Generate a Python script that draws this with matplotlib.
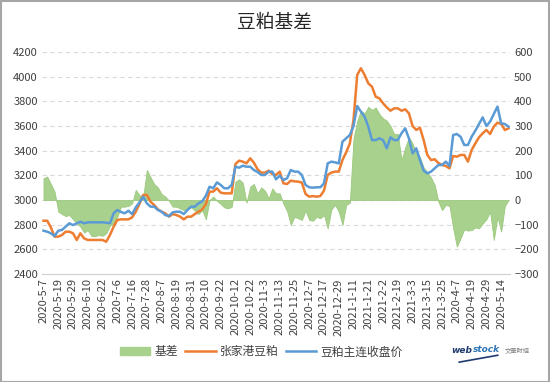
import numpy as np
import matplotlib.pyplot as plt
from matplotlib.patches import Patch, Rectangle
from matplotlib.lines import Line2D

plt.rcParams["font.family"] = ["Noto Sans CJK SC", "DejaVu Sans"]

# category labels, one every 4 samples (samples ~every 2 trading days)
tick_labels = [
    "2020-5-7", "2020-5-19", "2020-5-29", "2020-6-10", "2020-6-22", "2020-7-6",
    "2020-7-16", "2020-7-28", "2020-8-7", "2020-8-19", "2020-8-31", "2020-9-10",
    "2020-9-22", "2020-10-12", "2020-10-22", "2020-11-3", "2020-11-13",
    "2020-11-25", "2020-12-7", "2020-12-17", "2020-12-29", "2021-1-11",
    "2021-1-21", "2021-2-2", "2021-2-19", "2021-3-3", "2021-3-15", "2021-3-25",
    "2020-4-7", "2020-4-19", "2020-4-29", "2020-5-14",
]

# 张家港豆粕 (left axis)
zhangjiagang = [
    2832, 2832, 2778, 2703, 2703, 2716, 2743, 2743, 2730, 2676,
    2730, 2689, 2676, 2676, 2676, 2676, 2676, 2662, 2716, 2784,
    2838, 2843, 2843, 2843, 2859, 2905, 2968, 3041, 3041, 2986,
    2959, 2924, 2905, 2892, 2865, 2886, 2878, 2865, 2843, 2865,
    2865, 2886, 2905, 2924, 2968, 3068, 3068, 3095, 3060, 3054,
    3054, 3054, 3292, 3319, 3311, 3297, 3338, 3303, 3249, 3222,
    3222, 3238, 3211, 3203, 3230, 3135, 3130, 3157, 3151, 3149,
    3141, 3049, 3027, 3032, 3027, 3032, 3076, 3203, 3222, 3230,
    3230, 3324, 3386, 3459, 3650, 4014, 4068, 4014, 3946, 3919,
    3838, 3824, 3784, 3751, 3724, 3743, 3743, 3724, 3735, 3703,
    3600, 3568, 3586, 3486, 3365, 3324, 3330, 3300, 3284, 3276,
    3257, 3357, 3351, 3365, 3365, 3311, 3405, 3459, 3508, 3541,
    3568, 3535, 3595, 3627, 3616, 3568, 3581,
]

# 豆粕主连收盘价 (left axis)
main_close = [
    2751, 2743, 2730, 2708, 2751, 2757, 2784, 2811, 2797, 2811,
    2824, 2811, 2819, 2819, 2819, 2819, 2819, 2816, 2811, 2892,
    2919, 2903, 2892, 2913, 2886, 2940, 2981, 3027, 2973, 2946,
    2946, 2919, 2905, 2878, 2870, 2900, 2905, 2905, 2886, 2919,
    2946, 2946, 2973, 2989, 3035, 3108, 3095, 3143, 3122, 3095,
    3095, 3122, 3270, 3262, 3278, 3270, 3270, 3243, 3227, 3203,
    3203, 3230, 3230, 3168, 3197, 3162, 3176, 3243, 3230, 3230,
    3203, 3122, 3103, 3100, 3103, 3103, 3135, 3297, 3311, 3305,
    3297, 3473, 3500, 3527, 3600, 3762, 3716, 3676, 3595, 3486,
    3486, 3500, 3486, 3419, 3508, 3486, 3486, 3541, 3581, 3500,
    3378, 3419, 3324, 3238, 3216, 3230, 3257, 3284, 3284, 3311,
    3276, 3527, 3535, 3513, 3446, 3446, 3513, 3562, 3616, 3670,
    3600, 3635, 3697, 3757, 3622, 3616, 3595,
]

# 基差 (right axis)
basis = [
    88, 95, 65, 34, -47, -57, -65, -61, -78, -95,
    -108, -132, -122, -146, -146, -142, -145, -135, -104, -95,
    -68, -27, -27, -24, -14, 41, 20, 11, 122, 92,
    65, 51, 24, 14, -3, -27, -27, -34, -41, -34,
    -30, -43, -57, -41, -78, 0, 14, -3, -16, -30,
    -34, -27, 74, 84, 70, -11, 54, 65, 27, 51,
    38, 7, 47, 27, 27, -15, -45, -101, -68, -74,
    -81, -43, -81, -84, -68, -74, -61, -115, -38, -20,
    -47, -101, -20, -11, 250, 320, 362, 351, 378, 365,
    375, 349, 331, 322, 300, 268, 268, 162, 213, 254,
    230, 189, 173, 132, 113, 91, 61, -7, -41, -20,
    -24, -115, -189, -155, -119, -124, -122, -111, -115, -95,
    -78, -47, -162, -68, -128, -24, 0,
]

GREEN = "#A9D18E"
ORANGE = "#ED7D31"
BLUE = "#5B9BD5"
TXT = "#404040"

fig = plt.figure(figsize=(5.5, 3.82), dpi=100)
ax = fig.add_axes([0.0764, 0.2827, 0.8509, 0.5812])
ax2 = ax.twinx()

x = np.arange(len(basis))

# area on the right axis, kept behind the price lines
ax2.fill_between(x, basis, 0, color=GREEN, lw=0.6, edgecolor="#9cc97e")
ax2.set_ylim(-300, 600)
ax2.set_yticks(range(-300, 601, 100))
ax2.grid(axis="y", color="#d9d9d9", ls=(0, (4, 3)), lw=0.8)
ax2.set_axisbelow(True)

ax.plot(x, zhangjiagang, color=ORANGE, lw=1.8)
ax.plot(x, main_close, color=BLUE, lw=1.8)
ax.set_ylim(2400, 4200)
ax.set_yticks(range(2400, 4201, 200))
ax.set_xlim(-0.4, 126.4)
ax.set_xticks(np.arange(0, len(tick_labels) * 4, 4))
ax.set_xticklabels(tick_labels, rotation=90, fontsize=7.5, color=TXT)

ax.set_zorder(ax2.get_zorder() + 1)
ax.patch.set_visible(False)

for a in (ax, ax2):
    for s in ("top", "left", "right", "bottom"):
        a.spines[s].set_visible(False)
    a.tick_params(length=0, labelsize=8, colors=TXT, pad=3)
ax2.spines["bottom"].set_visible(True)
ax2.spines["bottom"].set_color("#d0d0d0")

fig.text(0.5, 0.94, "豆粕基差", ha="center", va="center", fontsize=13.5, color="#262626")

handles = [
    Patch(facecolor=GREEN, edgecolor=GREEN),
    Line2D([], [], color=ORANGE, lw=1.8),
    Line2D([], [], color=BLUE, lw=1.8),
]
fig.legend(handles, ["基差", "张家港豆粕", "豆粕主连收盘价"], loc="center",
           bbox_to_anchor=(0.475, 0.079), ncol=3, frameon=False, fontsize=8.5,
           handlelength=2.6, handletextpad=0.35, columnspacing=0.6,
           labelcolor=TXT)

# logo, as plain text
fig.text(0.820, 0.082, "web", color="#1f3a6e", fontsize=6.5, weight="bold",
         style="italic", ha="left", va="center", family="DejaVu Sans")
fig.text(0.860, 0.086, "stock", color="#2e75b6", fontsize=6.5, weight="bold",
         style="italic", ha="left", va="center", family="DejaVu Sans")
fig.text(0.918, 0.080, "文華財經", color="#7f7f7f", fontsize=4.5, ha="left", va="center")
fig.add_artist(Line2D([0.835, 0.905], [0.052, 0.070], transform=fig.transFigure,
                      color="#1f3a6e", lw=1.2))

fig.patches.append(Rectangle((0.001, 0.001), 0.997, 0.997, transform=fig.transFigure,
                             fill=False, edgecolor="#a6a6a6", lw=1.5))

fig.savefig("out.png", dpi=100)
